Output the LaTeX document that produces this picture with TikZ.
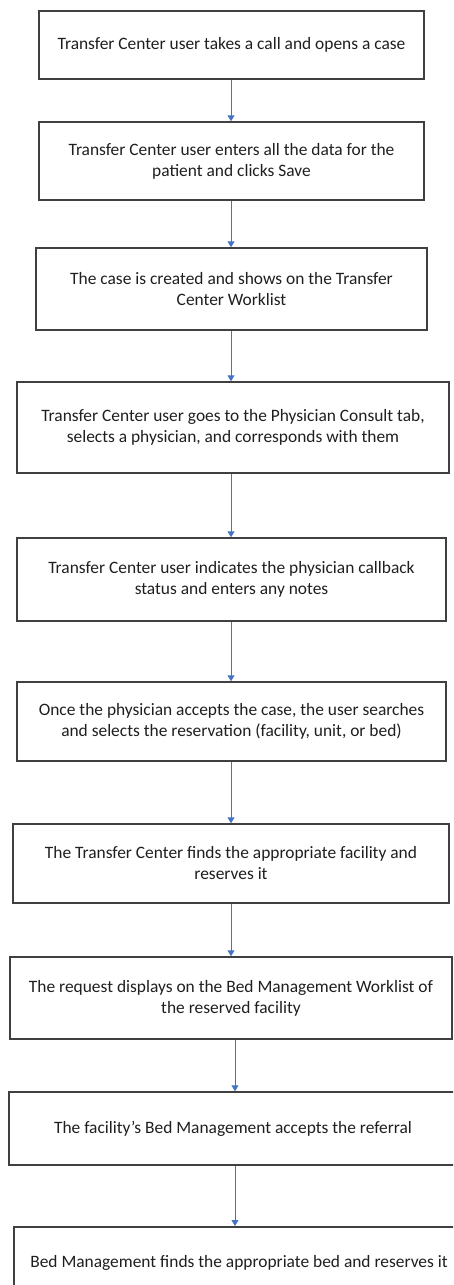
\documentclass[tikz,border=0pt]{standalone}
\usepackage{fontspec}
\setmainfont{Carlito}
\usetikzlibrary{arrows.meta}
\begin{document}
\begin{tikzpicture}[x=1pt,y=-1pt,
  stepbox/.style={draw=black!75,line width=1.5pt,fill=white,inner sep=0pt,
    font=\fontsize{17.4}{21}\selectfont\color{black!88},align=center},
  arr/.style={draw={rgb,255:red,68;green,114;blue,196},line width=1pt,
    -{Triangle[width=7pt,length=6pt]}}]
\useasboundingbox (0,0) rectangle (453,1285);
\clip (0,0) rectangle (453,1285);
\newcommand\mybox[6]{%
  \node[stepbox,minimum width={#3-#2},minimum height={#5-#4}] (#1) at ({(#2+#3)/2},{(#4+#5)/2}) {#6};}
\mybox{b1}{39}{424}{11}{79}{Transfer Center user takes a call and opens a case}
\mybox{b2}{39}{424}{122}{200}{Transfer Center user enters all the data for the\\patient and clicks Save}
\mybox{b3}{36}{427}{248}{330}{The case is created and shows on the Transfer\\Center Worklist}
\mybox{b4}{17}{449}{382}{473}{Transfer Center user goes to the Physician Consult tab,\\selects a physician, and corresponds with them}
\mybox{b5}{17}{446}{538}{621}{Transfer Center user indicates the physician callback\\status and enters any notes}
\mybox{b6}{17}{446}{682}{761}{Once the physician accepts the case, the user searches\\and selects the reservation (facility, unit, or bed)}
\mybox{b7}{13}{449}{824}{903}{The Transfer Center finds the appropriate facility and\\reserves it}
\mybox{b8}{10}{452}{957}{1039}{The request displays on the Bed Management Worklist of\\the reserved facility}
\mybox{b9}{9}{457}{1092}{1165}{The facility's Bed Management accepts the referral}
\node[stepbox,minimum width=452,minimum height=92,anchor=north west] (b10) at (13,1226) {};
\node[font=\fontsize{17.4}{21}\selectfont\color{black!88}] (t10) at (239,1263) {Bed Management finds the appropriate bed and reserves it};
\coordinate (ax) at (231,0);
\coordinate (bx) at (235,0);
\draw[arr] (b1.south -| ax) -- (b2.north -| ax);
\draw[arr] (b2.south -| ax) -- (b3.north -| ax);
\draw[arr] (b3.south -| ax) -- (b4.north -| ax);
\draw[arr] (b4.south -| ax) -- (b5.north -| ax);
\draw[arr] (b5.south -| ax) -- (b6.north -| ax);
\draw[arr] (b6.south -| ax) -- (b7.north -| ax);
\draw[arr] (b7.south -| ax) -- (b8.north -| ax);
\draw[arr] (b8.south -| bx) -- (b9.north -| bx);
\draw[arr] (b9.south -| bx) -- (b10.north -| bx);
\end{tikzpicture}
\end{document}
